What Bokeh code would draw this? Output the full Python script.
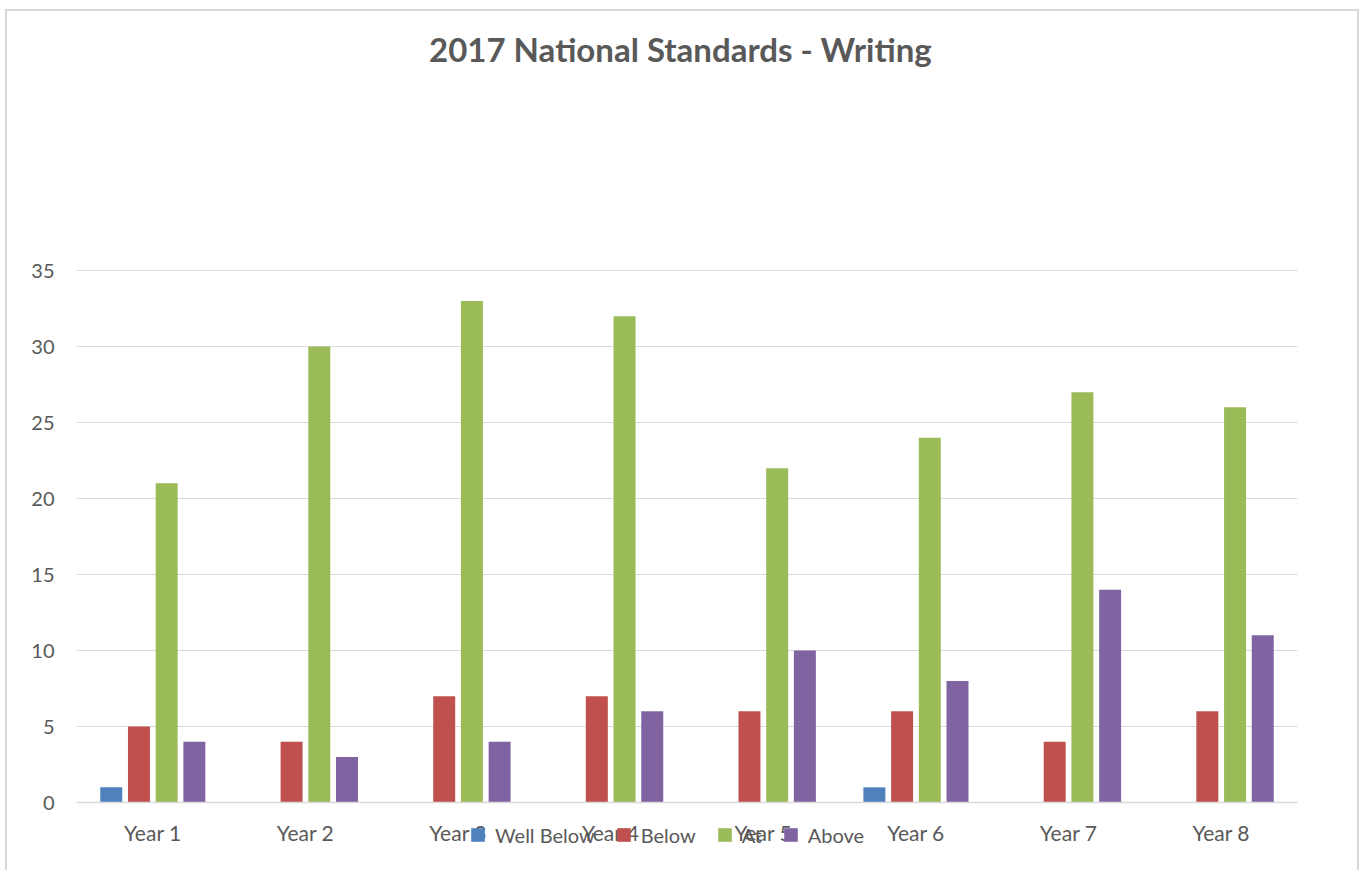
from bokeh.plotting import figure
from bokeh.models import (FactorRange, Legend, LegendItem, Label, ColumnDataSource,
                          Range1d, FixedTicker)
from bokeh.transform import dodge
from bokeh.embed import file_html
from bokeh.resources import INLINE

years = ["Year 1", "Year 2", "Year 3", "Year 4", "Year 5", "Year 6", "Year 7", "Year 8"]
series_names = ["Well Below", "Below", "At", "Above"]
well_below = [1, 0, 0, 0, 0, 1, 0, 0]
below = [5, 4, 7, 7, 6, 6, 4, 6]
at = [21, 30, 33, 32, 22, 24, 27, 26]
above = [4, 3, 4, 6, 10, 8, 14, 11]
y_ticks = [0, 5, 10, 15, 20, 25, 30, 35]
colors = ["#4F81BD", "#C0504D", "#9BBB59", "#8064A2"]
title_text = "2017 National Standards - Writing"

FONT = "Lato"
TXT = "#595959"

source = ColumnDataSource(dict(years=years, wb=well_below, b=below, a=at, ab=above))

p = figure(
    x_range=FactorRange(*years, range_padding=0),
    y_range=Range1d(-4.47, 52.04),
    width=1350, height=859,
    output_backend="svg", toolbar_location=None,
    min_border_left=69, min_border_right=60, min_border_top=0, min_border_bottom=0,
    styles={"margin-left": "7px", "margin-top": "11px", "box-shadow": "0 0 0 2px #D9D9D9"},
)
p.outline_line_color = None
p.background_fill_color = "white"
p.border_fill_color = "white"

offsets = [-0.2723, -0.0908, 0.0908, 0.2723]
cols = ["wb", "b", "a", "ab"]
renderers = []
for col, off, c in zip(cols, offsets, colors):
    r = p.vbar(x=dodge("years", off, range=p.x_range), top=col, width=0.144,
               source=source, fill_color=c, line_color=None)
    renderers.append(r)

p.xgrid.grid_line_color = None
p.ygrid.grid_line_color = "#D9D9D9"
p.ygrid.grid_line_width = 1
p.yaxis.ticker = FixedTicker(ticks=y_ticks)
p.yaxis.axis_line_color = None
p.yaxis.major_tick_line_color = None
p.yaxis.minor_tick_line_color = None
p.yaxis.major_label_standoff = 16
p.yaxis.major_label_text_font_size = "20px"
p.xaxis.fixed_location = 0
p.xaxis.axis_line_color = "#D9D9D9"
p.xaxis.axis_line_width = 1.5
p.xaxis.major_tick_line_color = None
p.xaxis.minor_tick_line_color = None
p.xaxis.major_label_standoff = 11
p.xaxis.major_label_text_font_size = "21px"
for ax in (p.xaxis[0], p.yaxis[0]):
    ax.major_label_text_font = FONT
    ax.major_label_text_color = TXT

title = Label(x=604, y=822, x_units="screen", y_units="screen", text=title_text,
              text_font=FONT, text_font_size="33px", text_font_style="bold",
              text_color=TXT, text_align="center", text_baseline="middle")
p.add_layout(title)

legend = Legend(
    items=[LegendItem(label=n, renderers=[r]) for n, r in zip(series_names, renderers)],
    location=(393, 23.5), orientation="horizontal",
    label_text_font=FONT, label_text_font_size="20px", label_text_color=TXT,
    glyph_width=17, glyph_height=17, label_standoff=9, spacing=20,
    padding=0, margin=0, border_line_color=None, background_fill_alpha=0,
)
p.add_layout(legend, "center")

open("out.html", "w").write(file_html(p, INLINE))
